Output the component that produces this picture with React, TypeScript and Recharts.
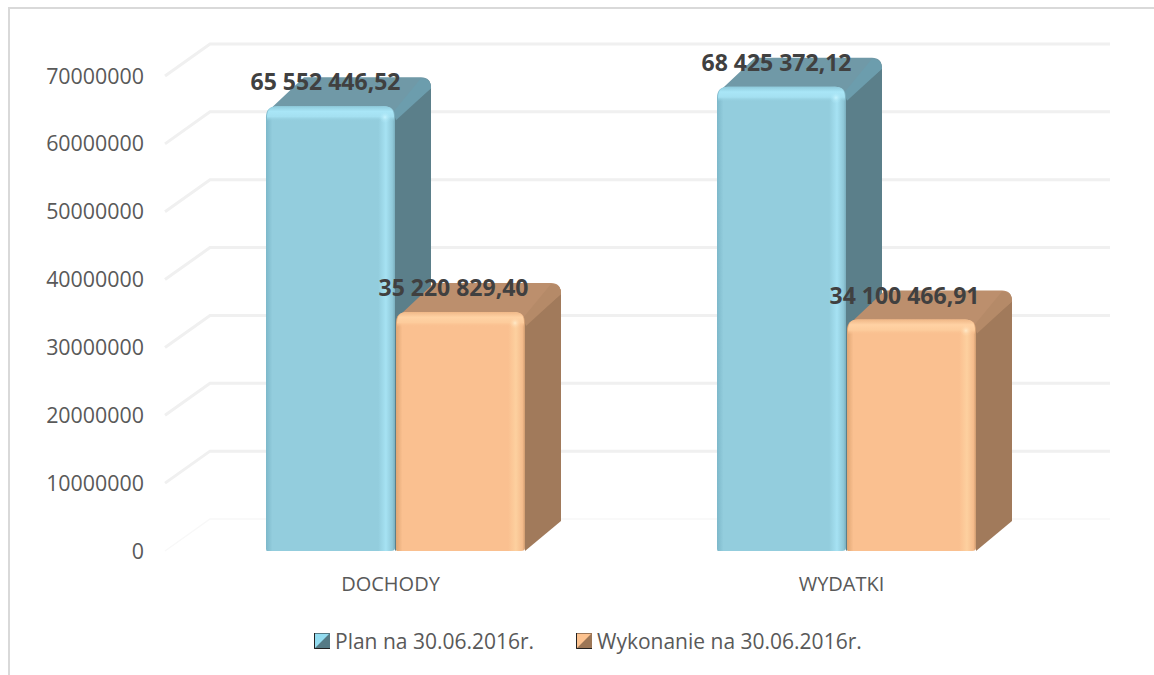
import React from 'react';
import {
  BarChart,
  Bar,
  XAxis,
  YAxis,
  CartesianGrid,
  Legend,
  LabelList
} from 'recharts';

const categories = ['DOCHODY', 'WYDATKI'];
const planValues = [65552446.52, 68425372.12];
const wykonanieValues = [35220829.4, 34100466.91];
const yTicks = [0, 10000000, 20000000, 30000000, 40000000, 50000000, 60000000, 70000000];

const chartData = categories.map((name, i) => ({
  name,
  plan: planValues[i],
  wykonanie: wykonanieValues[i]
}));

const FONT = '"Open Sans", "Noto Sans", sans-serif';
const DEPTH_X = 36;
const DEPTH_Y = 30;
const BAR_SHIFT = 5;

const palettes: Record<string, any> = {
  plan: { id: 'plan', side: '#5b7f8a', top: '#7099a7', corner: '#6c9dad', legendLight: '#93dcf0', legendDark: '#557a85' },
  wykonanie: { id: 'wyk', side: '#a17a5b', top: '#bc8f6d', corner: '#b58a68', legendLight: '#fcc28f', legendDark: '#9c7656' }
};

// polish style number: 65 552 446,52
const formatValue = (v: any) => {
  const [whole, frac] = Number(v).toFixed(2).split('.');
  return whole.replace(/\B(?=(\d{3})+$)/g, ' ') + ',' + frac;
};

function Bar3D(props: any) {
  const { y, width, height, seriesKey } = props;
  const x = props.x + BAR_SHIFT;
  const p = palettes[seriesKey];
  const r = 11;
  const bottom = y + height;
  const right = x + width;
  return (
    <g>
      {/* side wall */}
      <path
        d={`M${right - 6},${y + 2} L${right + DEPTH_X - 8},${y - DEPTH_Y + 2}
            Q${right + DEPTH_X},${y - DEPTH_Y + 2} ${right + DEPTH_X},${y - DEPTH_Y + 12}
            L${right + DEPTH_X},${bottom - DEPTH_Y}
            L${right},${bottom} Z`}
        fill={p.side}
      />
      {/* top face */}
      <path
        d={`M${x + 4},${y + 3} L${x + DEPTH_X + 2},${y - DEPTH_Y + 1}
            L${right + DEPTH_X - 10},${y - DEPTH_Y + 1}
            Q${right + DEPTH_X},${y - DEPTH_Y + 1} ${right + DEPTH_X},${y - DEPTH_Y + 12}
            L${right + 1},${y + 12} L${right - 6},${y + 2} Z`}
        fill={p.top}
      />
      <path
        d={`M${right - 2},${y + 6} L${right + DEPTH_X - 10},${y - DEPTH_Y + 2}
            Q${right + DEPTH_X},${y - DEPTH_Y + 2} ${right + DEPTH_X},${y - DEPTH_Y + 12}
            L${right + 1},${y + 14} Z`}
        fill={p.corner}
      />
      {/* front face */}
      <path
        d={`M${x},${y + r} Q${x},${y} ${x + r},${y} L${right - r},${y} Q${right},${y} ${right},${y + r}
            L${right},${bottom - 3} Q${right},${bottom} ${right - 4},${bottom}
            L${x + 1},${bottom} Q${x},${bottom} ${x},${bottom - 2} Z`}
        fill={`url(#front-${p.id})`}
      />
      <path
        d={`M${x + 1},${y + 15} L${x + 1},${y + r} Q${x + 1},${y} ${x + r},${y} L${right - r},${y} Q${right - 1},${y} ${right - 1},${y + r} L${right - 1},${y + 15} Z`}
        fill={`url(#bevel-${p.id})`}
      />
      <circle cx={right - 10} cy={y + 11} r={6} fill={`url(#glow-${p.id})`} />
    </g>
  );
}

function gridLine(props: any) {
  const { x1, x2, y1, index } = props;
  const isFloor = Math.abs(y1 - 551) < 2;
  return (
    <polyline
      key={`grid-${index}`}
      points={`${x1},${y1} ${x1 + 45},${y1 - 32} ${x2 + 43},${y1 - 32}`}
      fill="none"
      stroke={isFloor ? '#f8f8f8' : '#f0f0f0'}
      strokeWidth={isFloor ? 1.5 : 3}
    />
  );
}

function Swatch({ light, dark }: { light: string; dark: string }) {
  return (
    <svg width={16} height={16} style={{ display: 'block' }}>
      <rect x={0} y={0} width={16} height={16} fill={dark} />
      <path d="M1,1 L15,1 L1,15 Z" fill={light} />
      <path d="M0.5,0 L0.5,15.5 L16,15.5" fill="none" stroke="#222" strokeWidth={1} />
    </svg>
  );
}

function renderLegend(props: any) {
  const items = props.payload || [];
  return (
    <div style={{ position: 'relative', height: 24, fontFamily: FONT, fontSize: 21, color: '#595959' }}>
      {items.map((it: any) => {
        const p = palettes[it.dataKey];
        const left = it.dataKey === 'plan' ? 314 : 576;
        return (
          <div key={it.dataKey} style={{ position: 'absolute', left, top: 0, display: 'flex', alignItems: 'center', height: 24, whiteSpace: 'nowrap' }}>
            <Swatch light={p.legendLight} dark={p.legendDark} />
            <span style={{ marginLeft: 5 }}>{it.value}</span>
          </div>
        );
      })}
    </div>
  );
}

export default function App() {
  return (
    <div style={{ position: 'absolute', left: 0, top: 0, width: 1154, height: 675, overflow: 'hidden', background: '#fff' }}>
      <div style={{ position: 'absolute', left: 8, top: 7, width: 1146, height: 2, background: '#d9d9d9' }} />
      <div style={{ position: 'absolute', left: 8, top: 7, width: 2, height: 668, background: '#d9d9d9' }} />
      <BarChart
        width={1154}
        height={675}
        data={chartData}
        margin={{ top: 76, right: 87, bottom: 0, left: 0 }}
        barCategoryGap={96}
        barGap={1}
        style={{ position: 'absolute', left: 0, top: 0 }}
      >
        <defs>
          <linearGradient id="front-plan" x1="0" y1="0" x2="1" y2="0">
            <stop offset="0" stopColor="#7db8ca" />
            <stop offset="0.05" stopColor="#93cddd" />
            <stop offset="0.87" stopColor="#93cddd" />
            <stop offset="0.93" stopColor="#a6e2f3" />
            <stop offset="0.98" stopColor="#8fc8d8" />
            <stop offset="1" stopColor="#7aaebd" />
          </linearGradient>
          <linearGradient id="front-wyk" x1="0" y1="0" x2="1" y2="0">
            <stop offset="0" stopColor="#e0a674" />
            <stop offset="0.05" stopColor="#fac090" />
            <stop offset="0.87" stopColor="#fac090" />
            <stop offset="0.93" stopColor="#fdd09f" />
            <stop offset="0.98" stopColor="#f5bc8c" />
            <stop offset="1" stopColor="#d09c70" />
          </linearGradient>
          <linearGradient id="bevel-plan" x1="0" y1="0" x2="0" y2="1">
            <stop offset="0" stopColor="#8ecadb" />
            <stop offset="0.35" stopColor="#a9e6f7" />
            <stop offset="0.7" stopColor="#a4e0f1" />
            <stop offset="1" stopColor="#93cddd" stopOpacity={0} />
          </linearGradient>
          <linearGradient id="bevel-wyk" x1="0" y1="0" x2="0" y2="1">
            <stop offset="0" stopColor="#f0b888" />
            <stop offset="0.35" stopColor="#ffd2a4" />
            <stop offset="0.7" stopColor="#fdcc9c" />
            <stop offset="1" stopColor="#fac090" stopOpacity={0} />
          </linearGradient>
          <radialGradient id="glow-plan">
            <stop offset="0" stopColor="#c6f4ff" />
            <stop offset="1" stopColor="#a9e6f7" stopOpacity={0} />
          </radialGradient>
          <radialGradient id="glow-wyk">
            <stop offset="0" stopColor="#ffeac8" />
            <stop offset="1" stopColor="#ffd2a4" stopOpacity={0} />
          </radialGradient>
        </defs>
        <CartesianGrid vertical={false} horizontal={gridLine as any} />
        <XAxis
          dataKey="name"
          height={100}
          axisLine={false}
          tickLine={false}
          tickMargin={20}
          tick={{ fill: '#595959', fontFamily: FONT, fontSize: 20 }}
        />
        <YAxis
          width={165}
          domain={[0, 70000000]}
          ticks={yTicks}
          interval={0}
          axisLine={false}
          tickLine={false}
          tickMargin={15}
          tick={{ fill: '#595959', fontFamily: FONT, fontSize: 21.4 }}
        />
        <Legend
          verticalAlign="bottom"
          content={renderLegend}
          wrapperStyle={{ left: 0, width: 1154, top: 629, bottom: 'auto' }}
        />
        <Bar
          dataKey="plan"
          name="Plan na 30.06.2016r."
          fill="#93cddd"
          isAnimationActive={false}
          shape={(p: any) => <Bar3D {...p} seriesKey="plan" />}
        >
          <LabelList
            dataKey="plan"
            position="top"
            offset={16}
            dx={0}
            formatter={formatValue}
            fill="#404040"
            fontFamily={FONT}
            fontWeight={700}
            fontSize={23}
          />
        </Bar>
        <Bar
          dataKey="wykonanie"
          name="Wykonanie na 30.06.2016r."
          fill="#fac090"
          isAnimationActive={false}
          shape={(p: any) => <Bar3D {...p} seriesKey="wykonanie" />}
        >
          <LabelList
            dataKey="wykonanie"
            position="top"
            offset={16}
            dx={-2}
            formatter={formatValue}
            fill="#404040"
            fontFamily={FONT}
            fontWeight={700}
            fontSize={23}
          />
        </Bar>
      </BarChart>
    </div>
  );
}
